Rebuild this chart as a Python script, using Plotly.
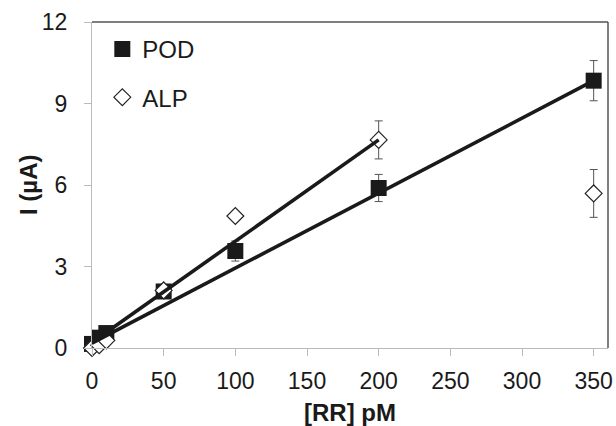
import numpy as np
import plotly.graph_objects as go

# Concentration of RR (pM)
conc = [0, 5, 10, 50, 100, 200, 350]

# POD-labelled assay current (µA) and its standard deviation
pod_current = [0.15, 0.38, 0.55, 2.08, 3.57, 5.89, 9.84]
pod_err = [0.05, 0.05, 0.05, 0.10, 0.37, 0.50, 0.74]

# ALP-labelled assay current (µA) and its standard deviation
alp_current = [0.0, 0.1, 0.28, 2.12, 4.86, 7.66, 5.69]
alp_err = [0.0, 0.0, 0.0, 0.0, 0.0, 0.70, 0.88]

# Linear trendlines: (slope, intercept, x-range end)
pod_fit = (0.0276, 0.18, 350)
alp_fit = (0.0373, 0.20, 200)

x_ticks = [0, 50, 100, 150, 200, 250, 300, 350]
y_ticks = [0, 3, 6, 9, 12]

FONT = "Liberation Sans, Arial, sans-serif"
INK = "#1a1a1a"

fig = go.Figure()

fig.add_trace(go.Scatter(
    x=conc, y=pod_current, mode="markers", name="POD",
    legendgroup="pod", cliponaxis=False,
    marker=dict(symbol="square", size=16, color=INK, line=dict(width=0)),
    error_y=dict(type="data", array=pod_err, visible=True,
                 color="#555555", thickness=1, width=4),
))
fig.add_trace(go.Scatter(
    x=conc, y=alp_current, mode="markers", name="ALP",
    legendgroup="alp", cliponaxis=False,
    marker=dict(symbol="diamond", size=13, color="white",
                line=dict(width=1.2, color="#222222")),
    error_y=dict(type="data", array=alp_err, visible=True,
                 color="#555555", thickness=1, width=4),
))

# Trendlines evaluated from their coefficients
for slope, icpt, xend in (pod_fit, alp_fit):
    xs = np.array([0.0, xend])
    fig.add_trace(go.Scatter(
        x=xs, y=slope * xs + icpt, mode="lines", showlegend=False,
        cliponaxis=False,
        line=dict(color=INK, width=3.6), hoverinfo="skip",
    ))

axis_common = dict(
    showgrid=False, zeroline=False, showline=True, linecolor="#bbbbbb",
    linewidth=1, ticks="outside", ticklen=7, tickcolor="#bbbbbb",
    tickfont=dict(family=FONT, size=23, color=INK), automargin=False,
)

fig.update_xaxes(range=[0, 360], tickvals=x_ticks, ticklabelstandoff=5, **axis_common)
fig.update_yaxes(range=[0, 12], tickvals=y_ticks, ticklabelstandoff=12, **axis_common)

# Axis titles
title_font = dict(family=FONT, size=24, color=INK)
fig.add_annotation(text="<b>[RR] pM</b>", xref="paper", yref="paper",
                   x=0.5, y=-0.197, xanchor="center", yanchor="middle",
                   showarrow=False, font=title_font)
fig.add_annotation(text="<b>I (µA)</b>", xref="paper", yref="paper",
                   x=-0.124, y=0.5, xanchor="center", yanchor="middle",
                   textangle=-90, showarrow=False, font=title_font)

# Darker frame on the top and right edges of the plot area
fig.add_shape(type="line", xref="paper", yref="paper", x0=0, x1=1, y0=1, y1=1,
              line=dict(color="#555555", width=1.5))
fig.add_shape(type="line", xref="paper", yref="paper", x0=1, x1=1, y0=0, y1=1,
              line=dict(color="#555555", width=1.5))

fig.update_layout(
    width=616, height=426,
    margin=dict(l=92, r=8, t=22, b=78),
    paper_bgcolor="white", plot_bgcolor="white",
    font=dict(family=FONT, size=23, color=INK),
    showlegend=True,
    legend=dict(x=0.02, y=0.985, xanchor="left", yanchor="top",
                bgcolor="rgba(0,0,0,0)", font=dict(family=FONT, size=24, color=INK),
                traceorder="grouped", tracegroupgap=14, itemwidth=30),
)

fig.write_html("out.html")
